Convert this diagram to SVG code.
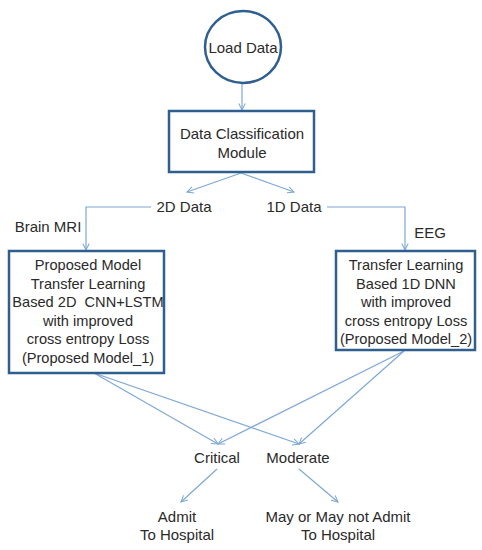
<svg xmlns="http://www.w3.org/2000/svg" width="482" height="550" viewBox="0 0 482 550">
<defs>
<style>
.node{fill:#fff;stroke:#2f5f8f;stroke-width:2.5}
.conn{fill:none;stroke:#7ea8d6;stroke-width:1.2}
text{font-family:"Liberation Sans",Arial,sans-serif;font-size:15px;fill:#2a2a2a;text-anchor:middle;dominant-baseline:central}
.m text{font-size:14.6px}
</style>
<marker id="arr" viewBox="0 0 10 10" refX="9" refY="5" markerWidth="8" markerHeight="8" orient="auto" markerUnits="userSpaceOnUse">
<path d="M1,1 L9,5 L1,9" fill="none" stroke="#7ea8d6" stroke-width="1.3"/>
</marker>
</defs>
<rect width="482" height="550" fill="#fff"/>
<g id="connectors">
<line class="conn" x1="242" y1="83" x2="242" y2="110" marker-end="url(#arr)"/>
<line class="conn" x1="241" y1="173" x2="187" y2="192" marker-end="url(#arr)"/>
<line class="conn" x1="241" y1="173" x2="294" y2="192" marker-end="url(#arr)"/>
<polyline class="conn" points="151,207 86,207 86,250" marker-end="url(#arr)"/>
<polyline class="conn" points="327,207 405,207 405,250" marker-end="url(#arr)"/>
<line class="conn" x1="94" y1="373" x2="218" y2="444" marker-end="url(#arr)"/>
<line class="conn" x1="94" y1="373" x2="299" y2="444" marker-end="url(#arr)"/>
<line class="conn" x1="404" y1="351" x2="218" y2="444" marker-end="url(#arr)"/>
<line class="conn" x1="404" y1="351" x2="299" y2="444" marker-end="url(#arr)"/>
<line class="conn" x1="217" y1="469" x2="181" y2="502" marker-end="url(#arr)"/>
<line class="conn" x1="299" y1="469" x2="338" y2="502" marker-end="url(#arr)"/>
</g>
<g id="load-data">
<ellipse class="node" cx="243" cy="47" rx="38" ry="36"/>
<text x="243" y="47">Load Data</text>
</g>
<g id="classification">
<rect class="node" x="169" y="111" width="145" height="61"/>
<text x="242" y="133">Data Classification</text>
<text x="242" y="152">Module</text>
</g>
<g id="label-2d"><text x="184" y="206">2D Data</text></g>
<g id="label-1d"><text x="294" y="206">1D Data</text></g>
<g id="label-mri"><text x="48" y="226">Brain MRI</text></g>
<g id="label-eeg"><text x="430" y="232">EEG</text></g>
<g id="model1" class="m">
<rect class="node" x="9" y="251" width="155" height="122"/>
<text x="88" y="265">Proposed Model</text>
<text x="88" y="283.5">Transfer Learning</text>
<text x="88" y="302" xml:space="preserve">Based 2D  CNN+LSTM</text>
<text x="88" y="320.5">with improved</text>
<text x="88" y="339">cross entropy Loss</text>
<text x="88" y="357.5">(Proposed Model_1)</text>
</g>
<g id="model2" class="m">
<rect class="node" x="336" y="251" width="139" height="99"/>
<text x="406" y="265">Transfer Learning</text>
<text x="406" y="283.5">Based 1D DNN</text>
<text x="406" y="302">with improved</text>
<text x="406" y="320.5">cross entropy Loss</text>
<text x="406" y="339">(Proposed Model_2)</text>
</g>
<g id="critical"><text x="217" y="457">Critical</text></g>
<g id="moderate"><text x="298" y="457">Moderate</text></g>
<g id="admit">
<text x="177" y="516">Admit</text>
<text x="177" y="534">To Hospital</text>
</g>
<g id="may-admit">
<text x="338" y="516">May or May not Admit</text>
<text x="338" y="534">To Hospital</text>
</g>
</svg>
